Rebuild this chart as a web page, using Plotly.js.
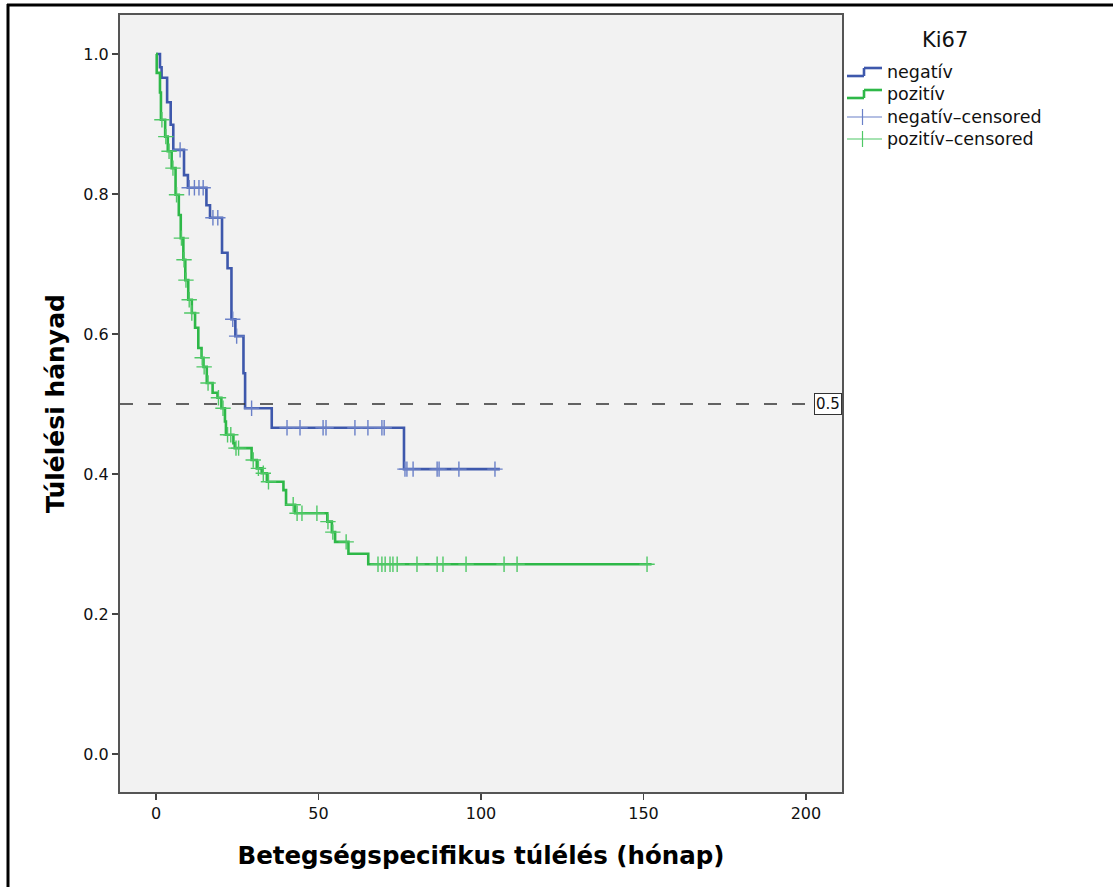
<!DOCTYPE html>
<html>
<head>
<meta charset="utf-8">
<script src="https://cdn.plot.ly/plotly-3.0.1.min.js"></script>
<style>html,body{margin:0;padding:0;background:#fff;}#chart{width:1113px;height:887px;}</style>
</head>
<body>
<div id="chart"></div>
<script>
// Kaplan-Meier step data: negatív (Ki67 negative)
const negTime = [0, 1.2, 1.7, 3.4, 4.5, 5.3, 8.6, 9.8, 15.5, 16.6, 20.3, 22.0, 23.2, 24.4, 26.9, 27.4, 35.6, 76.3, 105.8];
const negSurv = [1.0, 0.981, 0.966, 0.931, 0.899, 0.863, 0.827, 0.809, 0.784, 0.766, 0.716, 0.694, 0.621, 0.597, 0.544, 0.494, 0.466, 0.407, 0.407];
const negCensTime = [7.4, 10.2, 11.8, 13.2, 14.5, 17.5, 19.0, 23.6, 24.8, 29.4, 40.3, 44.3, 51.4, 52.3, 61.2, 65.2, 69.5, 70.2, 76.6, 77.2, 79.1, 86.5, 87.1, 93.2, 104.3];
const negCensSurv = [0.863, 0.809, 0.809, 0.809, 0.809, 0.766, 0.766, 0.621, 0.597, 0.494, 0.466, 0.466, 0.466, 0.466, 0.466, 0.466, 0.466, 0.466, 0.407, 0.407, 0.407, 0.407, 0.407, 0.407, 0.407];

// pozitív (Ki67 positive)
const posTime = [0, 0.2, 1.2, 1.5, 2.8, 3.6, 4.8, 6.0, 7.0, 7.6, 8.4, 9.0, 9.9, 11.0, 12.0, 13.0, 14.0, 14.6, 15.6, 17.4, 18.9, 20.1, 21.2, 21.5, 23.8, 24.2, 29.4, 31.0, 32.5, 34.1, 39.2, 40.0, 42.8, 52.7, 54.1, 55.1, 59.2, 65.3, 152.5];
const posSurv = [1.0, 0.973, 0.945, 0.906, 0.882, 0.861, 0.837, 0.799, 0.77, 0.737, 0.706, 0.677, 0.649, 0.63, 0.609, 0.58, 0.566, 0.553, 0.53, 0.516, 0.509, 0.494, 0.475, 0.456, 0.444, 0.437, 0.42, 0.408, 0.401, 0.389, 0.377, 0.356, 0.344, 0.332, 0.317, 0.303, 0.286, 0.271, 0.271];
const posCensTime = [1.8, 3.0, 4.0, 5.2, 6.3, 7.8, 8.6, 9.2, 10.2, 11.0, 14.2, 14.8, 16.0, 19.2, 20.6, 22.0, 23.0, 24.6, 25.4, 29.9, 31.5, 33.0, 34.6, 42.2, 43.4, 44.9, 49.5, 52.9, 54.4, 58.5, 68.3, 69.5, 70.5, 72.0, 72.9, 74.2, 80.3, 86.5, 88.3, 95.4, 107.1, 111.1, 151.1];
const posCensSurv = [0.906, 0.882, 0.861, 0.837, 0.799, 0.737, 0.706, 0.677, 0.649, 0.63, 0.566, 0.553, 0.53, 0.509, 0.494, 0.456, 0.456, 0.437, 0.437, 0.42, 0.408, 0.401, 0.389, 0.356, 0.344, 0.344, 0.344, 0.332, 0.317, 0.303, 0.271, 0.271, 0.271, 0.271, 0.271, 0.271, 0.271, 0.271, 0.271, 0.271, 0.271, 0.271, 0.271];

const groupNames = ['negatív', 'pozitív', 'negatív–censored', 'pozitív–censored'];
const legendTitle = 'Ki67';
const xTicks = [0, 50, 100, 150, 200];
const yTicks = [0.0, 0.2, 0.4, 0.6, 0.8, 1.0];
const refLevel = 0.5;

const blue = '#3E58AC', green = '#2EB848';
const blueC = '#6a80c8', greenC = '#4fc866';

const L = 120, R = 842, T = 15, B = 792;
const px = x => (x - L) / (R - L);
const py = y => (B - y) / (B - T);

const traces = [
  {x: negTime, y: negSurv, mode: 'lines', line: {shape: 'hv', color: blue, width: 2.6}, showlegend: false, hoverinfo: 'skip'},
  {x: posTime, y: posSurv, mode: 'lines', line: {shape: 'hv', color: green, width: 2.6}, showlegend: false, hoverinfo: 'skip'},
  {x: negCensTime, y: negCensSurv, mode: 'markers', marker: {symbol: 'cross-thin', size: 11, line: {color: blueC, width: 1.4}}, showlegend: false, hoverinfo: 'skip'},
  {x: posCensTime, y: posCensSurv, mode: 'markers', marker: {symbol: 'cross-thin', size: 11, line: {color: greenC, width: 1.4}}, showlegend: false, hoverinfo: 'skip'}
];

const font = 'DejaVu Sans, Verdana, sans-serif';
const shapes = [
  // outer black frame (left and top)
  {type: 'line', xref: 'paper', yref: 'paper', x0: px(8), x1: px(8), y0: py(4), y1: py(900), line: {color: '#000', width: 3}},
  {type: 'line', xref: 'paper', yref: 'paper', x0: px(7), x1: px(1120), y0: py(5), y1: py(5), line: {color: '#000', width: 3}},
  // reference dashed line at 0.5
  {type: 'line', xref: 'paper', yref: 'y', x0: 0, x1: px(811), y0: refLevel, y1: refLevel, line: {color: '#333', width: 1.5, dash: '13px,15px'}}
];
function stepSym(yc, color) {
  return [
    {type: 'line', xref: 'paper', yref: 'paper', x0: px(847), x1: px(864), y0: py(yc + 4), y1: py(yc + 4), line: {color: color, width: 2.6}},
    {type: 'line', xref: 'paper', yref: 'paper', x0: px(864), x1: px(864), y0: py(yc + 4), y1: py(yc - 4), line: {color: color, width: 2.6}},
    {type: 'line', xref: 'paper', yref: 'paper', x0: px(864), x1: px(882), y0: py(yc - 4), y1: py(yc - 4), line: {color: color, width: 2.6}}
  ];
}
function crossSym(yc, color) {
  return [
    {type: 'line', xref: 'paper', yref: 'paper', x0: px(847), x1: px(882), y0: py(yc), y1: py(yc), line: {color: color, width: 1.2}},
    {type: 'line', xref: 'paper', yref: 'paper', x0: px(862.5), x1: px(862.5), y0: py(yc - 8), y1: py(yc + 8), line: {color: color, width: 1.2}}
  ];
}
const legY = [72, 94, 117, 139];
shapes.push(...stepSym(legY[0], blue), ...stepSym(legY[1], green), ...crossSym(legY[2], blueC), ...crossSym(legY[3], greenC));

const annotations = [
  {xref: 'paper', yref: 'y', x: 1, y: refLevel, xanchor: 'right', yanchor: 'middle', text: '0.5', showarrow: false,
   bgcolor: '#fff', bordercolor: '#333', borderwidth: 1, borderpad: 1, font: {family: font, size: 15, color: '#111'}},
  {xref: 'paper', yref: 'paper', x: px(945), y: py(40), xanchor: 'center', yanchor: 'middle', text: legendTitle, showarrow: false,
   font: {family: font, size: 21, color: '#111'}}
];
groupNames.forEach((n, i) => annotations.push({xref: 'paper', yref: 'paper', x: px(885), y: py(legY[i]), xanchor: 'left', yanchor: 'middle',
  text: n, showarrow: false, font: {family: font, size: 17.5, color: '#111'}}));

const layout = {
  width: 1113, height: 887,
  margin: {l: L, r: 1113 - R, t: T, b: 887 - B, pad: 0},
  paper_bgcolor: '#fff', plot_bgcolor: '#f2f2f2',
  showlegend: false,
  font: {family: font, color: '#111'},
  xaxis: {range: [-11.1, 211.1], tickvals: xTicks, ticktext: xTicks.map(String), ticks: 'outside', ticklen: 6, tickwidth: 1.5, tickcolor: '#444',
    showgrid: false, zeroline: false, showline: true, mirror: true, linecolor: '#555', linewidth: 2,
    tickfont: {family: font, size: 16, color: '#111'},
    title: {text: 'Betegségspecifikus túlélés (hónap)', font: {family: font, size: 24.5, color: '#000', weight: 'bold'}, standoff: 25}},
  yaxis: {range: [-0.0543, 1.0557], tickvals: yTicks, ticktext: yTicks.map(v => v.toFixed(1)), ticks: 'outside', ticklen: 6, tickwidth: 1.5, tickcolor: '#444',
    showgrid: false, zeroline: false, showline: true, mirror: true, linecolor: '#555', linewidth: 2,
    tickfont: {family: font, size: 16, color: '#111'},
    title: {text: 'Túlélési hányad', font: {family: font, size: 25, color: '#000', weight: 'bold'}, standoff: 12}},
  shapes: shapes,
  annotations: annotations
};

Plotly.newPlot('chart', traces, layout, {staticPlot: true, displayModeBar: false});
</script>
</body>
</html>
